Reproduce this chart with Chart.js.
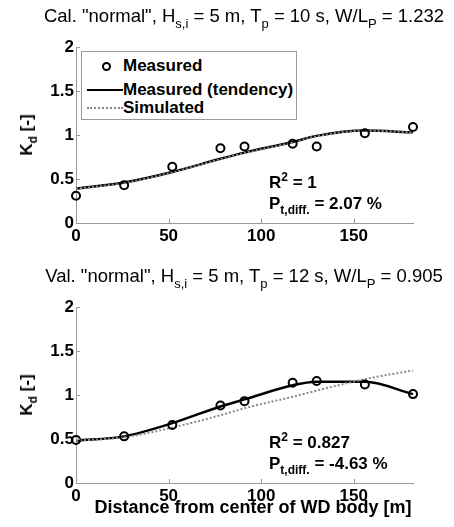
<!DOCTYPE html>
<html>
<head>
<meta charset="utf-8">
<script src="https://cdn.jsdelivr.net/npm/chart.js@4"></script>
<style>
  body { margin: 0; background: #fff; }
  #page { position: relative; width: 454px; height: 527px; overflow: hidden;
          font-family: "Liberation Sans", Arial, sans-serif; color: #000; }
  .panel { position: absolute; left: 0; width: 454px; }
  .panel canvas { position: absolute; left: 0; top: 0; }
  .title { position: absolute; left: 244px; top: 5px; transform: translateX(-50%);
           white-space: nowrap; font-size: 18.5px; line-height: 22px; }
  .title sub { font-size: 13px; vertical-align: -6px; }
  .ylab { position: absolute; left: 27px; top: 135px; white-space: nowrap; font-size: 17px;
          font-weight: bold; transform: translate(-50%, -50%) rotate(-90deg); line-height: 20px; }
  .note { position: absolute; left: 269px; white-space: nowrap; font-size: 17px;
          font-weight: bold; line-height: 20px; }
  sub { font-size: 12px; vertical-align: -5px; line-height: 0; }
  sup { font-size: 12px; vertical-align: 7px; line-height: 0; }
  .legend { position: absolute; left: 81px; top: 51px; width: 214px; height: 67px;
            border: 1px solid #999; background: #fff; }
  .legend .row { position: absolute; left: 0; width: 214px; height: 20px; line-height: 20px;
                 font-size: 17px; font-weight: bold; white-space: nowrap; }
  .legend .row span.txt { position: absolute; left: 41px; top: 0; }
  .sym-circle { position: absolute; left: 20px; top: 6px; width: 5px; height: 5px;
                border: 2px solid #000; border-radius: 50%; }
  .sym-solid { position: absolute; left: 5px; top: 9px; width: 36px; border-top: 2px solid #000; }
  .sym-dot { position: absolute; left: 5px; top: 9px; width: 36px; border-top: 2px dotted #888; }
  .xlab { position: absolute; left: 253px; top: 237px; transform: translateX(-50%);
          white-space: nowrap; font-size: 18px; font-weight: bold; line-height: 20px; }
</style>
</head>
<body>
<div id="page">
  <div class="panel" style="top:0;height:260px;">
    <canvas id="calChart" width="454" height="260"></canvas>
    <div class="title">Cal. "normal", H<sub>s,i</sub> = 5 m, T<sub>p</sub> = 10 s, W/L<sub>P</sub> = 1.232</div>
    <div class="ylab">K<sub>d</sub> [-]</div>
    <div class="legend">
      <div class="row" style="top:4px;"><span class="sym-circle"></span><span class="txt">Measured</span></div>
      <div class="row" style="top:28px;"><span class="sym-solid"></span><span class="txt">Measured (tendency)</span></div>
      <div class="row" style="top:46px;"><span class="sym-dot"></span><span class="txt">Simulated</span></div>
    </div>
    <div class="note" style="top:173px;">R<sup>2</sup> = 1</div>
    <div class="note" style="top:194px;">P<sub>t,diff.</sub> = 2.07 %</div>
  </div>
  <div class="panel" style="top:260px;height:267px;">
    <canvas id="valChart" width="454" height="267"></canvas>
    <div class="title">Val. "normal", H<sub>s,i</sub> = 5 m, T<sub>p</sub> = 12 s, W/L<sub>P</sub> = 0.905</div>
    <div class="ylab">K<sub>d</sub> [-]</div>
    <div class="note" style="top:173px;">R<sup>2</sup> = 0.827</div>
    <div class="note" style="top:194px;">P<sub>t,diff.</sub> = -4.63 %</div>
    <div class="xlab">Distance from center of WD body [m]</div>
  </div>
</div>
<script>
// distance from center of the WD body [m]
const distances = [0, 26, 52, 78, 91, 117, 130, 156, 182];

// calibration case (Tp = 10 s)
const calMeasured = [0.31, 0.43, 0.64, 0.85, 0.87, 0.90, 0.87, 1.02, 1.09];
const calTendency = [0.39, 0.46, 0.58, 0.73, 0.80, 0.92, 0.99, 1.05, 1.03];
const calSimulated = [0.39, 0.455, 0.575, 0.725, 0.795, 0.915, 0.985, 1.05, 1.03];

// validation case (Tp = 12 s)
const valMeasured = [0.49, 0.53, 0.66, 0.88, 0.93, 1.14, 1.16, 1.12, 1.01];
const valTendency = [0.48, 0.53, 0.68, 0.87, 0.95, 1.11, 1.15, 1.15, 1.01];
const valSimulated = [0.48, 0.52, 0.63, 0.77, 0.85, 0.98, 1.05, 1.18, 1.28];

const xTicks = [0, 50, 100, 150];
const yTicks = [0, 0.5, 1, 1.5, 2];

const axisColor = '#999';
const tickFont = { family: '"Liberation Sans", Arial, sans-serif', size: 17, weight: 'bold' };

// small ticks pointing into the plot, matlab style
const innerTicks = {
	id: 'innerTicks',
	afterDraw(chart) {
		const { ctx, chartArea, scales } = chart;
		ctx.save();
		ctx.strokeStyle = axisColor;
		ctx.lineWidth = 1;
		ctx.beginPath();
		xTicks.forEach((v) => {
			const px = Math.round(scales.x.getPixelForValue(v)) + 0.5;
			ctx.moveTo(px, chartArea.bottom);
			ctx.lineTo(px, chartArea.bottom - 4);
		});
		yTicks.forEach((v) => {
			const py = Math.round(scales.y.getPixelForValue(v)) + 0.5;
			ctx.moveTo(chartArea.left, py);
			ctx.lineTo(chartArea.left + 4, py);
		});
		ctx.stroke();
		ctx.restore();
	},
};

const drawPanel = (canvasId, measured, tendency, simulated, xAxisHeight) => {
	const canvas = document.getElementById(canvasId).getContext('2d');
	const toXY = (arr) => arr.map((v, i) => ({ x: distances[i], y: v }));

	return new Chart(canvas, {
		type: 'line',
		data: {
			datasets: [
				{
					label: 'Measured',
					data: toXY(measured),
					showLine: false,
					pointRadius: 4,
					pointBorderWidth: 2,
					pointBorderColor: '#000',
					pointBackgroundColor: 'rgba(0,0,0,0)',
					order: 0,
				},
				{
					label: 'Simulated',
					data: toXY(simulated),
					borderColor: '#8a8a8a',
					borderWidth: 2,
					borderDash: [2, 2],
					pointRadius: 0,
					cubicInterpolationMode: 'monotone',
					order: 1,
				},
				{
					label: 'Measured (tendency)',
					data: toXY(tendency),
					borderColor: '#000',
					borderWidth: 2.5,
					pointRadius: 0,
					cubicInterpolationMode: 'monotone',
					order: 2,
				},
			],
		},
		options: {
			responsive: false,
			animation: false,
			clip: false,
			layout: { padding: { top: 47, right: 41, left: 0, bottom: 0 } },
			plugins: {
				legend: { display: false },
				tooltip: { enabled: false },
			},
			scales: {
				x: {
					type: 'linear',
					min: 0,
					max: 182,
					afterBuildTicks: (s) => { s.ticks = xTicks.map((v) => ({ value: v })); },
					afterFit: (s) => { s.height = xAxisHeight; },
					ticks: { font: tickFont, color: '#000', padding: 3, maxRotation: 0,
						callback: (v) => String(v) },
					grid: { display: true, drawOnChartArea: false, drawTicks: false },
					border: { display: true, color: axisColor, width: 1 },
				},
				y: {
					min: 0,
					max: 2,
					afterBuildTicks: (s) => { s.ticks = yTicks.map((v) => ({ value: v })); },
					afterFit: (s) => { s.width = 76; },
					ticks: { font: tickFont, color: '#000', padding: 2,
						callback: (v) => String(v) },
					grid: { display: true, drawOnChartArea: false, drawTicks: false },
					border: { display: true, color: axisColor, width: 1 },
				},
			},
		},
		plugins: [innerTicks],
	});
};

drawPanel('calChart', calMeasured, calTendency, calSimulated, 37);
drawPanel('valChart', valMeasured, valTendency, valSimulated, 44);
</script>
</body>
</html>
